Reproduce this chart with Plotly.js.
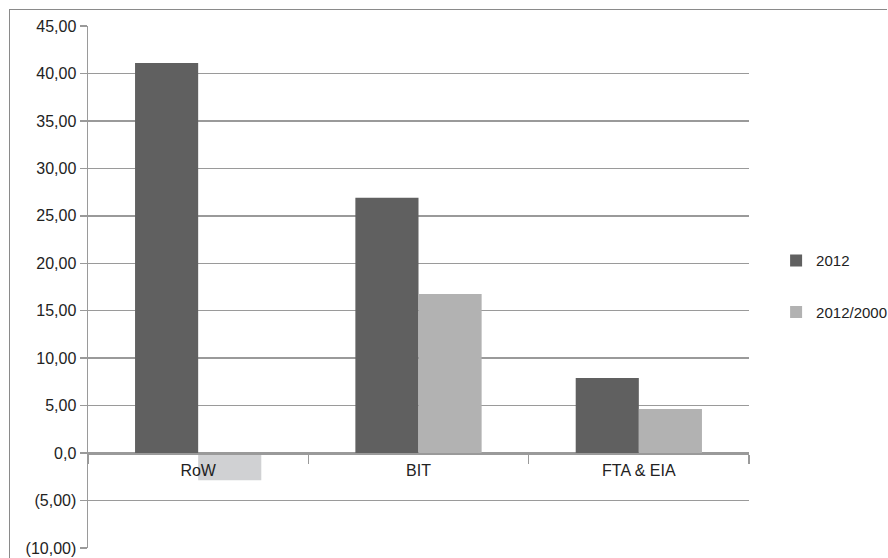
<!DOCTYPE html>
<html>
<head>
<meta charset="utf-8">
<script src="https://cdn.plot.ly/plotly-3.0.1.min.js"></script>
<style>
  html, body { margin: 0; padding: 0; background: #fff; }
  #wrap { position: relative; width: 888px; height: 558px; }
  #chart { width: 888px; height: 558px; }
  #frame { position: absolute; left: 9px; top: 9px; right: 1px; bottom: 0; border-left: 1.5px solid #8a8a8a; border-top: 1.5px solid #8a8a8a; pointer-events: none; }
</style>
</head>
<body>
<div id="wrap">
  <div id="chart"></div>
  <div id="frame"></div>
</div>
<script>
const categories = ["RoW", "BIT", "FTA & EIA"];
const series2012 = [41.1, 26.9, 7.9];
const series2012_2000 = [-2.85, 16.75, 4.65];
const seriesNames = ["2012", "2012/2000"];
const yTickVals = [-10, -5, 0, 5, 10, 15, 20, 25, 30, 35, 40, 45];
const yTickText = ["(10,00)", "(5,00)", "0,0", "5,00", "10,00", "15,00", "20,00", "25,00", "30,00", "35,00", "40,00", "45,00"];

const dark = "#606060";
const light = "#b2b2b2";
const lightNeg = "#d0d1d3";

const traces = [
  {
    type: "bar", name: seriesNames[0], x: categories, y: series2012,
    marker: { color: dark, line: { width: 0 } },
    offsetgroup: "a", legendgroup: "g1", hoverinfo: "x+y"
  },
  {
    type: "bar", name: seriesNames[1], x: categories, y: series2012_2000,
    marker: { color: series2012_2000.map(v => v < 0 ? lightNeg : light), line: { width: 0 } },
    offsetgroup: "b", legendgroup: "g2", showlegend: false, hoverinfo: "x+y"
  },
  {
    type: "bar", name: seriesNames[1], x: [categories[0]], y: [null],
    marker: { color: light, line: { width: 0 } },
    offsetgroup: "b", legendgroup: "g2", showlegend: true, hoverinfo: "skip"
  }
];

const yMin = -10, yMax = 45;
const layout = {
  width: 888, height: 558,
  margin: { l: 88, r: 139, t: 26, b: 10, autoexpand: false },
  paper_bgcolor: "#ffffff",
  plot_bgcolor: "#ffffff",
  font: { family: "Liberation Sans, Arial, sans-serif", size: 15, color: "#222" },
  barmode: "group",
  bargap: 0.427,
  bargroupgap: 0,
  showlegend: true,
  legend: {
    x: 1.041, y: 0.582, xanchor: "left", yanchor: "top",
    font: { size: 15, color: "#222" },
    tracegroupgap: 29,
    itemwidth: 30,
    bgcolor: "rgba(0,0,0,0)"
  },
  xaxis: {
    type: "category",
    anchor: "free",
    position: (0 - yMin) / (yMax - yMin),
    showline: true, linecolor: "#9a9a9a", linewidth: 1.5,
    ticks: "outside", tickson: "boundaries", ticklen: 9, tickcolor: "#9a9a9a", tickwidth: 1.5,
    ticklabelstandoff: 2,
    showgrid: false, zeroline: false,
    tickfont: { size: 16, color: "#222" },
    fixedrange: true
  },
  yaxis: {
    range: [yMin, yMax],
    tickvals: yTickVals, ticktext: yTickText,
    showgrid: true, gridcolor: "#9a9a9a", gridwidth: 1.5,
    showline: true, linecolor: "#9a9a9a", linewidth: 1.5,
    ticks: "outside", ticklen: 7, tickcolor: "#9a9a9a", tickwidth: 1.5,
    zeroline: false,
    tickfont: { size: 16, color: "#222" },
    fixedrange: true
  }
};

Plotly.newPlot("chart", traces, layout, { displayModeBar: false, staticPlot: true });
</script>
</body>
</html>
